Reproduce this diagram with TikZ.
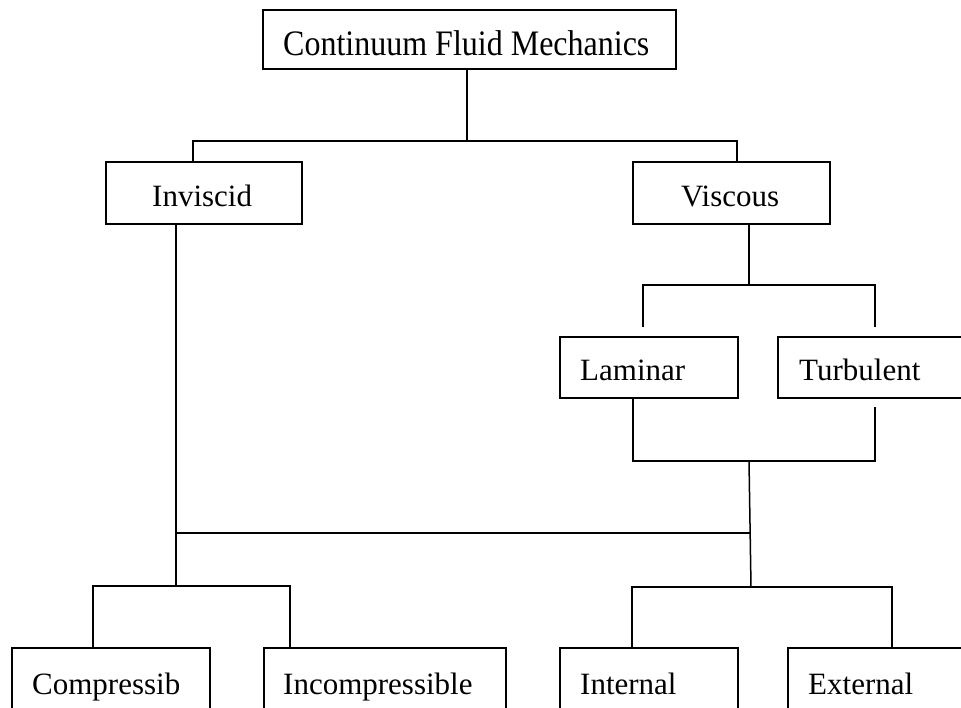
\documentclass[tikz,border=0pt]{standalone}
\usepackage{fontspec}
\setmainfont{Liberation Serif}
\begin{document}
\begin{tikzpicture}[x=1pt,y=-1pt,
  box/.style={draw, line width=1.8pt, rectangle, inner sep=0pt, anchor=north west},
  conn/.style={line width=1.5pt},
  txt/.style={anchor=base west, inner sep=0pt, font=\fontsize{31}{37}\selectfont}]
\useasboundingbox (0,0) rectangle (961,708);
\fill[white] (0,0) rectangle (961,708);
\clip (0,0) rectangle (961,708);
% boxes
\node[box, minimum width=413pt, minimum height=59pt] (cfm) at (262,9) {};
\node[box, minimum width=196pt, minimum height=62pt] (inv) at (105,161) {};
\node[box, minimum width=197pt, minimum height=62pt] (visc) at (632,161) {};
\node[box, minimum width=178pt, minimum height=61pt] (lam) at (559,336) {};
\node[box, minimum width=220pt, minimum height=61pt] (turb) at (777,336) {};
\node[box, minimum width=198pt, minimum height=100pt] (comp) at (11,647) {};
\node[box, minimum width=242pt, minimum height=100pt] (incomp) at (263,647) {};
\node[box, minimum width=178pt, minimum height=100pt] (int) at (559,647) {};
\node[box, minimum width=220pt, minimum height=100pt] (ext) at (787,647) {};
% texts
\node[txt, font=\fontsize{32}{38}\selectfont] (tcfm) at (283,56) {\scalebox{1}[1.12]{Continuum Fluid Mechanics}};
\node[txt] (tinv) at (152,207) {Inviscid};
\node[txt] (tvisc) at (681,207) {Viscous};
\node[txt] (tlam) at (580,381) {Laminar};
\node[txt] (tturb) at (799,381) {Turbulent};
\node[txt] (tcomp) at (32,694) {Compressib};
\node[txt] (tincomp) at (283,694) {Incompressible};
\node[txt] (tint) at (580,694) {Internal};
\node[txt] (text) at (808,694) {External};
% junction coordinates
\coordinate (jtop) at (467,141);
\coordinate (a1) at (193,141);
\coordinate (a2) at (737,141);
\coordinate (b1) at (176,533);
\coordinate (b2) at (176,586);
\coordinate (c1) at (751,533);
\coordinate (v1) at (749,285);
\coordinate (l1) at (643,327);
\coordinate (t1) at (875,327);
\coordinate (l2) at (633,461);
\coordinate (t2) at (875,407);
\coordinate (m1) at (749,461);
\coordinate (m2) at (751,587);
\coordinate (p1) at (93,586);
\coordinate (p2) at (290,586);
\coordinate (q1) at (632,587);
\coordinate (q2) at (892,587);
% connectors
\draw[conn] (cfm.south -| jtop) -- (jtop);
\draw[conn] (inv.north -| a1) |- (a2) -- (visc.north -| a2);
\draw[conn] (inv.south -| b1) -- (b2);
\draw[conn] (b1) -- (c1);
\draw[conn] (visc.south -| v1) -- (v1);
\draw[conn] (l1) |- (v1) -| (t1);
\draw[conn] (lam.south -| l2) -- (l2) -| (t2);
\draw[conn] (m1) -- (m2);
\draw[conn] (comp.north -| p1) |- (p2) -- (incomp.north -| p2);
\draw[conn] (int.north -| q1) |- (q2) -- (ext.north -| q2);
\end{tikzpicture}
\end{document}
